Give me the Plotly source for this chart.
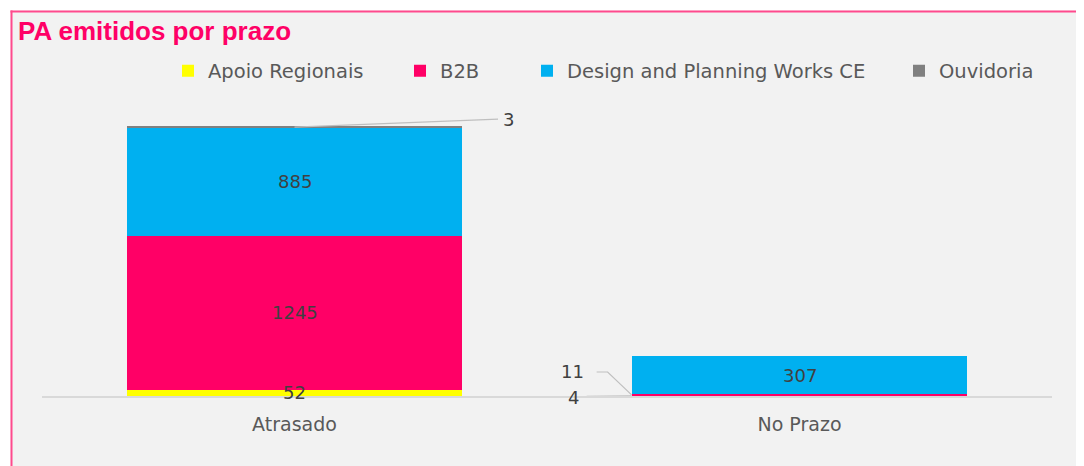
import plotly.graph_objects as go

categories = ["Atrasado", "No Prazo"]
series_names = ["Apoio Regionais", "B2B", "Design and Planning Works CE", "Ouvidoria"]
apoio = [52, 4]
b2b = [1245, 11]
design = [885, 307]
ouvidoria = [3, 0]
colors = ["#FFFF00", "#FF0066", "#00B0F0", "#808080"]
series_values = [apoio, b2b, design, ouvidoria]

OFF = 8  # page body margin
W, H = 1084 - OFF, 466 - OFF
ML, MR, MT, MB = 42 - OFF, 32, 100 - OFF, 70
PW = W - ML - MR
PH = H - MT - MB
YMAX = 2404
BARGAP = 0.335
BW = 1 - BARGAP

def px_x(px):  # screen px -> paper x
    return (px - OFF - ML) / PW

def px_y(py):  # screen px -> paper y
    return (H - MB - (py - OFF)) / PH

def dy(pix):
    return pix * YMAX / PH

fig = go.Figure()
legend_px = [168, 400, 527, 899]
for i, (name, vals, col) in enumerate(zip(series_names, series_values, colors)):
    lg = "legend" if i == 0 else f"legend{i+1}"
    fig.add_trace(go.Bar(
        x=categories, y=vals, name=name, marker=dict(color=col, line=dict(width=0)),
        legend=lg, hoverinfo="x+y+name",
    ))

lab_font = dict(family="DejaVu Sans", size=18, color="#404040")
annotations = []
shapes = []

# inside labels (centered in segments)
for ci, cat in enumerate(categories):
    base = 0
    for si, vals in enumerate(series_values):
        v = vals[ci]
        mid = base + v / 2
        big = v * PH / YMAX > 20
        if big or (ci == 0 and si == 0):
            annotations.append(dict(x=cat, y=mid, text=str(v), showarrow=False,
                                    font=lab_font, xref="x", yref="y"))
        base += v

# Ouvidoria label on Atrasado (leader line to upper right)
tot0 = sum(v[0] for v in series_values)
oy = tot0 - ouvidoria[0] / 2
ly = oy + dy(8)
shapes.append(dict(type="line", xref="x", yref="y", x0=0, y0=oy, x1=0.403, y1=ly,
                   line=dict(color="#BFBFBF", width=1.2)))
annotations.append(dict(x=0.423, y=ly, text=str(ouvidoria[0]), showarrow=False,
                        font=lab_font, xref="x", yref="y"))

# B2B label on No Prazo (bent leader)
bx = 1 - BW / 2
by = apoio[1] + b2b[1] / 2
l11y = dy(24)
shapes.append(dict(type="path", xref="x", yref="y",
                   path=f"M {bx},{by} L {bx-0.0474},{l11y} L {bx-0.0692},{l11y}",
                   line=dict(color="#BFBFBF", width=1.2)))
annotations.append(dict(x=bx - 0.09, y=l11y + dy(1), text=str(b2b[1]), showarrow=False,
                        xanchor="right", font=lab_font, xref="x", yref="y"))

# Apoio label on No Prazo
ay = apoio[1] / 2
shapes.append(dict(type="line", xref="x", yref="y", x0=bx, y0=ay, x1=bx - 0.089, y1=ay - dy(0.5),
                   line=dict(color="#BFBFBF", width=1.2)))
annotations.append(dict(x=bx - 0.1, y=ay, yshift=-2, text=str(apoio[1]), showarrow=False,
                        xanchor="right", font=lab_font, xref="x", yref="y"))

# frame: white outer strips + pink border
shapes += [
    dict(type="rect", xref="paper", yref="paper", x0=px_x(0), x1=px_x(1084), y0=px_y(0), y1=px_y(10.5),
         fillcolor="white", line=dict(width=0), layer="below"),
    dict(type="rect", xref="paper", yref="paper", x0=px_x(0), x1=px_x(10.5), y0=px_y(0), y1=px_y(466),
         fillcolor="white", line=dict(width=0), layer="below"),
    dict(type="line", xref="paper", yref="paper", x0=px_x(10.5), x1=px_x(1084), y0=px_y(11.5), y1=px_y(11.5),
         line=dict(color="#FF4A8D", width=2), layer="below"),
    dict(type="line", xref="paper", yref="paper", x0=px_x(11.5), x1=px_x(11.5), y0=px_y(10.5), y1=px_y(466),
         line=dict(color="#FF4A8D", width=2), layer="below"),
]

leg_font = dict(family="DejaVu Sans", size=19.5, color="#595959")
legends = {}
for i, lpx in enumerate(legend_px):
    key = "legend" if i == 0 else f"legend{i+1}"
    legends[key] = dict(x=px_x(lpx), y=px_y(71), xanchor="left", yanchor="middle",
                        orientation="h", font=leg_font, bgcolor="rgba(0,0,0,0)",
                        borderwidth=0)

fig.update_layout(
    width=W, height=H,
    margin=dict(l=ML, r=MR, t=MT, b=MB, pad=0),
    barmode="stack", bargap=BARGAP,
    paper_bgcolor="#F2F2F2", plot_bgcolor="#F2F2F2",
    title=dict(text="<b>PA emitidos por prazo</b>", xref="container", yref="container",
               x=(18 - OFF) / W, xanchor="left", y=1 - (31 - OFF) / H, yanchor="middle",
               font=dict(family="Liberation Sans", size=26, color="#FF0066")),
    xaxis=dict(showline=True, linecolor="#D9D9D9", linewidth=1.5, showgrid=False,
               ticks="outside", ticklen=10, tickcolor="rgba(0,0,0,0)",
               tickfont=dict(family="DejaVu Sans", size=19, color="#595959"),
               range=[-0.5, 1.5], fixedrange=True),
    yaxis=dict(visible=False, range=[0, YMAX], showgrid=False, zeroline=False, fixedrange=True),
    showlegend=True,
    annotations=annotations,
    shapes=shapes,
    **legends,
)

fig.write_html("out.html")
